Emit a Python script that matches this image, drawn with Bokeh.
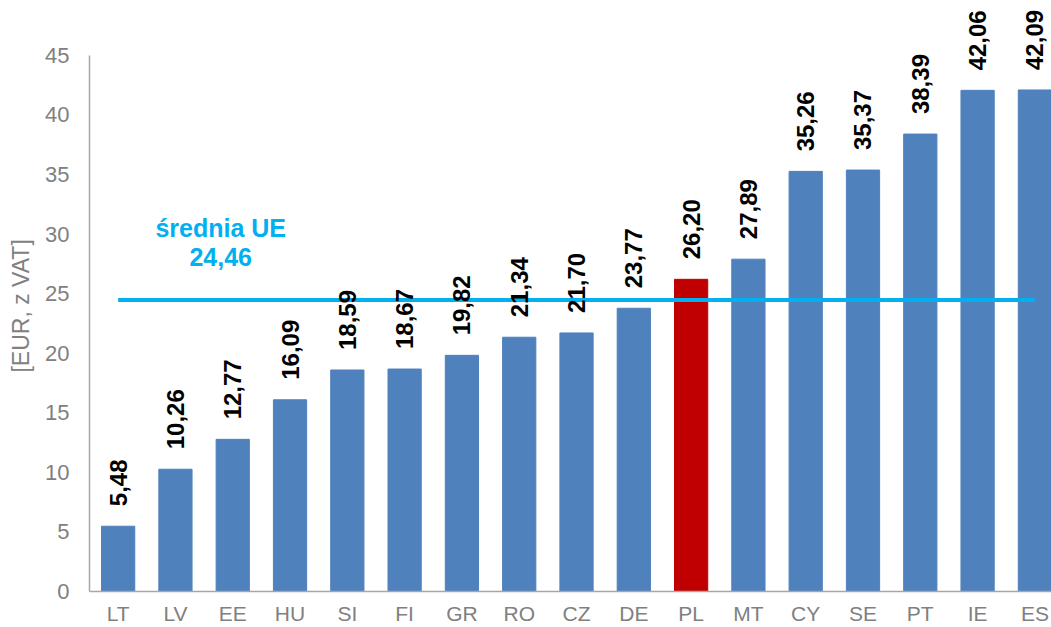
from bokeh.plotting import figure
from bokeh.layouts import row
from bokeh.models import Range1d, ColumnDataSource, FixedTicker
from bokeh.core.properties import value
from bokeh.embed import file_html
from bokeh.resources import INLINE
import math

countries = ["LT", "LV", "EE", "HU", "SI", "FI", "GR", "RO", "CZ", "DE", "PL", "MT", "CY", "SE", "PT", "IE", "ES"]
prices = [5.48, 10.26, 12.77, 16.09, 18.59, 18.67, 19.82, 21.34, 21.70, 23.77, 26.20, 27.89, 35.26, 35.37, 38.39, 42.06, 42.09]
eu_avg = 24.46
y_ticks = [0, 5, 10, 15, 20, 25, 30, 35, 40, 45]
y_title = "[EUR, z VAT]"

BLUE = "#4F81BD"
RED = "#C00000"
CYAN = "#00B0F0"
GRAY = "#808080"
FONT = "Liberation Sans"

xs = [i + 0.5 for i in range(len(countries))]
colors = [RED if c == "PL" else BLUE for c in countries]
labels = [f"{v:.2f}".replace(".", ",") for v in prices]
src = ColumnDataSource(dict(x=xs, top=prices, color=colors, label=labels))

# narrow side figure holding the rotated y-axis title
LW = 40
side = figure(width=LW, height=627, output_backend="svg", toolbar_location=None,
              x_range=Range1d(0, LW), y_range=Range1d(627, 0),
              x_axis_location=None, y_axis_location=None,
              min_border=0, outline_line_color=None)
side.xgrid.visible = False
side.ygrid.visible = False
side.text(x=[20], y=[324], text=[y_title], angle=math.pi / 2,
          text_align="center", text_baseline="middle",
          text_font=value(FONT), text_font_size="23px", text_color=GRAY)

p = figure(width=1051 - LW, height=627, output_backend="svg", toolbar_location=None,
           x_range=Range1d(0, 16.79), y_range=Range1d(0, 49.6),
           min_border_left=89 - LW, min_border_right=0, min_border_top=0, min_border_bottom=35)
p.outline_line_color = None
p.xgrid.visible = False
p.ygrid.visible = False
p.background_fill_color = "white"

p.vbar(x="x", top="top", width=0.58, color="color", source=src)

p.segment(x0=[0.5], y0=[eu_avg], x1=[16.5], y1=[eu_avg], line_color=CYAN, line_width=4)

p.text(x="x", y="top", text="label", source=src, angle=math.pi / 2,
       text_align="left", text_baseline="middle", y_offset=-20,
       text_font=value(FONT), text_font_style="bold", text_font_size="24px",
       text_color="black")

p.text(x=[2.29], y=[30.5], text=["średnia UE"], text_align="center", text_baseline="middle",
       text_font=value(FONT), text_font_style="bold", text_font_size="25px", text_color=CYAN)
p.text(x=[2.29], y=[28.05], text=[f"{eu_avg:.2f}".replace(".", ",")], text_align="center",
       text_baseline="middle", text_font=value(FONT), text_font_style="bold",
       text_font_size="25px", text_color=CYAN)

p.yaxis.ticker = FixedTicker(ticks=y_ticks)
p.yaxis.bounds = (0, 45)
p.yaxis.major_label_text_font = FONT
p.yaxis.major_label_text_font_size = "22px"
p.yaxis.major_label_text_color = GRAY
p.yaxis.major_tick_line_color = None
p.yaxis.minor_tick_line_color = None
p.yaxis.major_tick_out = 0
p.yaxis.major_tick_in = 0
p.yaxis.major_label_standoff = 20
p.yaxis.axis_line_color = "#A6A6A6"
p.yaxis.axis_line_width = 1.5

p.xaxis.ticker = FixedTicker(ticks=xs)
p.xaxis.major_label_overrides = {x: c for x, c in zip(xs, countries)}
p.xaxis.major_label_text_font = FONT
p.xaxis.major_label_text_font_size = "21px"
p.xaxis.major_label_text_color = GRAY
p.xaxis.major_tick_line_color = None
p.xaxis.minor_tick_line_color = None
p.xaxis.major_tick_out = 0
p.xaxis.major_tick_in = 0
p.xaxis.major_label_standoff = 10
p.xaxis.axis_line_color = "#A6A6A6"
p.xaxis.axis_line_width = 1.5

layout = row(side, p, spacing=0)
open("out.html", "w").write(file_html(layout, INLINE))
